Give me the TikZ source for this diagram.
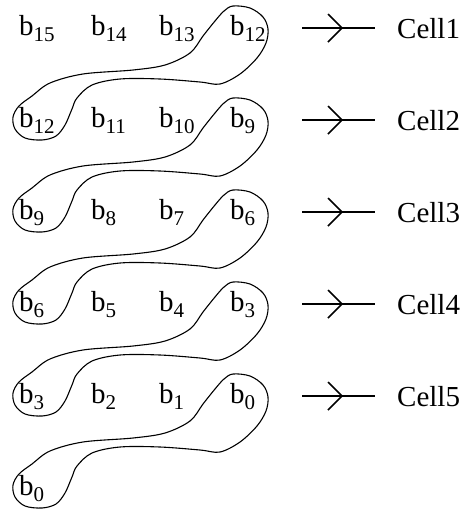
\documentclass[tikz,border=0pt]{standalone}
\usepackage{fontspec}
\setmainfont{Liberation Serif}
\newcommand\bsub[1]{b\raisebox{-6pt}{\fontsize{21}{21}\selectfont #1}}
\begin{document}
\begin{tikzpicture}[x=1pt,y=-1pt,
  lbl/.style={inner sep=0pt, anchor=base west, font=\fontsize{29}{29}\selectfont},
  grp/.style={line width=1.1pt},
  cellarrow/.style={line width=1.6pt, shorten >=22pt},
  vhead/.style={line width=1.6pt, line join=miter}]
\useasboundingbox (0,0) rectangle (466,512);
% row 0
\node[lbl] (r0c0) at (19,35) {\bsub{15}};
\node[lbl] (r0c1) at (91,35) {\bsub{14}};
\node[lbl] (r0c2) at (159,35) {\bsub{13}};
\node[lbl] (r0c3) at (230,35) {\bsub{12}};
% row 1
\node[lbl] (r1c0) at (19,127) {\bsub{12}};
\node[lbl] (r1c1) at (91,127) {\bsub{11}};
\node[lbl] (r1c2) at (159,127) {\bsub{10}};
\node[lbl] (r1c3) at (230,127) {\bsub{9}};
% row 2
\node[lbl] (r2c0) at (19,219) {\bsub{9}};
\node[lbl] (r2c1) at (91,219) {\bsub{8}};
\node[lbl] (r2c2) at (159,219) {\bsub{7}};
\node[lbl] (r2c3) at (230,219) {\bsub{6}};
% row 3
\node[lbl] (r3c0) at (19,311) {\bsub{6}};
\node[lbl] (r3c1) at (91,311) {\bsub{5}};
\node[lbl] (r3c2) at (159,311) {\bsub{4}};
\node[lbl] (r3c3) at (230,311) {\bsub{3}};
% row 4
\node[lbl] (r4c0) at (19,403) {\bsub{3}};
\node[lbl] (r4c1) at (91,403) {\bsub{2}};
\node[lbl] (r4c2) at (159,403) {\bsub{1}};
\node[lbl] (r4c3) at (230,403) {\bsub{0}};
% row 5
\node[lbl] (r5c0) at (19,495) {\bsub{0}};
% cells
\foreach \i in {1,...,5}{
  \node[lbl] (cell\i) at (397,{38+92*(\i-1)}) {Cell\i};
  \path (cell\i.west) ++(-95,0) coordinate (a\i);
  \draw[cellarrow] (a\i) -- (cell\i.west);
  \draw[vhead] (a\i) ++(26,-14) -- ++(14,14) -- ++(-14,14);
}
% grouping loops
\foreach \r in {0,...,4}{
  \begin{scope}[shift={(0,92*\r)}]
    \draw[grp] plot[smooth cycle, tension=0.55] coordinates {
      (233,6) (250,8) (263,17) (268,29) (266,43) (257,58) (240,74) (220,84)
      (200,82) (160,79) (120,79) (92,85) (77,98) (72,109) (65,125) (56,136)
      (42,140) (25,138) (15,129) (13,117) (19,106) (32,96) (50,83) (83,74)
      (133,70) (165,65) (190,53) (203,36) (215,21) (224,11)};
  \end{scope}
}
\end{tikzpicture}
\end{document}
